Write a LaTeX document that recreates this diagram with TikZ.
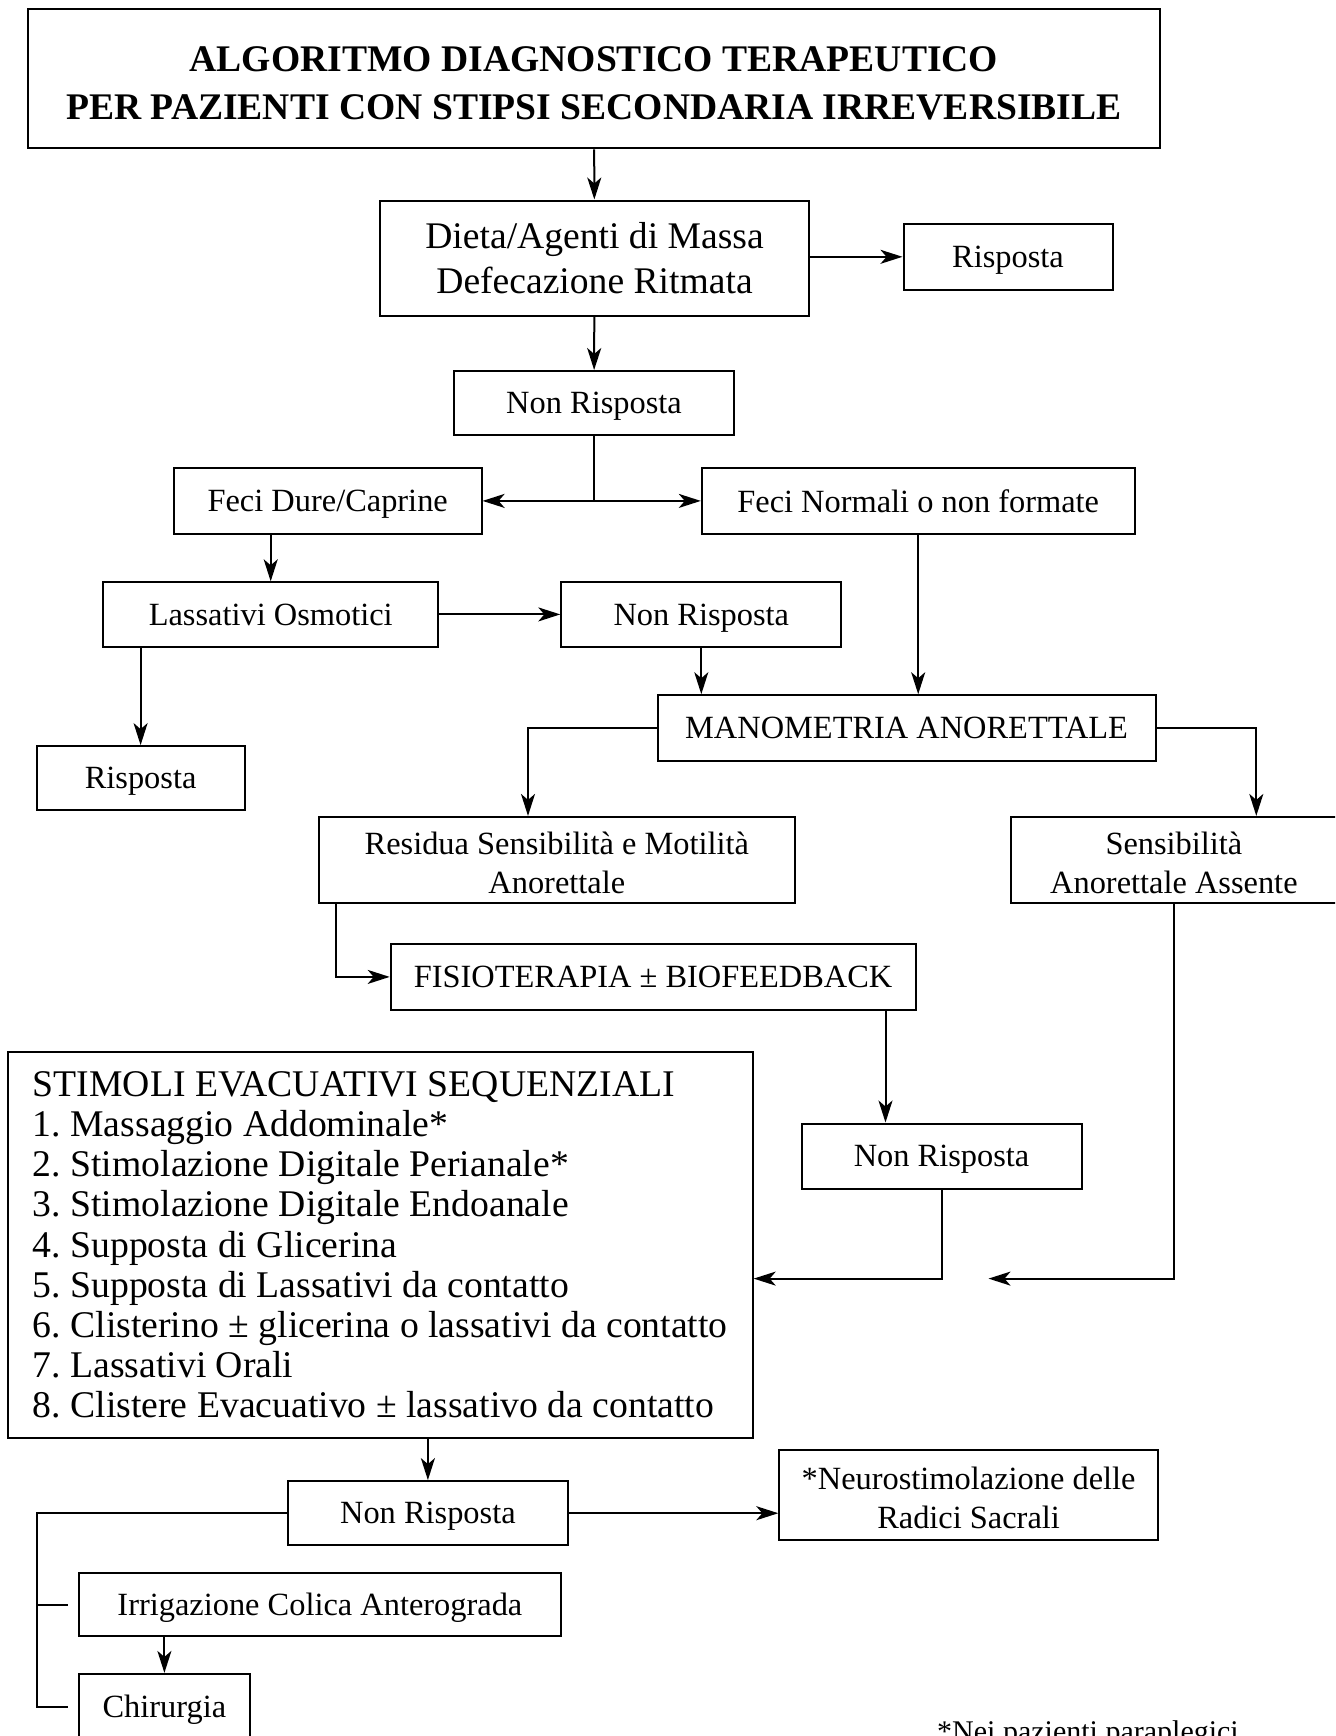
\documentclass[tikz,border=0pt]{standalone}
\usepackage{fontspec}
\setmainfont{Liberation Serif}
\usepackage{tikz}
\usetikzlibrary{arrows.meta,positioning,calc}

\begin{document}
\begin{tikzpicture}[
  x=0.5pt, y=-0.5pt,
  frame/.style={
    draw, line width=1pt, align=center, inner sep=0pt,
    font=\fontsize{16.2}{19.5}\selectfont,
  },
  box/.style={frame, text depth=0pt},
  twobox/.style={frame, text height=33.5pt, text depth=0pt},
  bigbox/.style={
    frame, font=\fontsize{18.8}{22.5}\selectfont,
  },
  titlebox/.style={
    frame, font=\bfseries\fontsize{18.8}{24}\selectfont,
    text height=41.1pt, text depth=0pt,
  },
  listbox/.style={
    draw, line width=1pt, align=left, inner xsep=11.25pt, inner ysep=0pt,
    font=\fontsize{18.85}{20.1}\selectfont\frenchspacing,
  },
  arrow/.style={-{Stealth[length=11pt, width=7pt, inset=3pt]}, line width=1pt},
  link/.style={line width=1pt},
]
\clip (0,0) rectangle (1335,1736);

\node[titlebox, minimum width=566pt, minimum height=69.7pt] (title) at (594,78.6)
  {ALGORITMO DIAGNOSTICO TERAPEUTICO\\PER PAZIENTI CON STIPSI SECONDARIA IRREVERSIBILE};
\node[bigbox, minimum width=214.75pt, minimum height=57.5pt] (dieta) at (594.5,258)
  {Dieta/Agenti di Massa\\Defecazione Ritmata};
\node[box, minimum width=104.5pt, minimum height=33.2pt] (risp1) at (1008,256.8) {Risposta};
\node[box, minimum width=140pt, minimum height=32pt] (nr1) at (594,403) {Non Risposta};
\node[box, minimum width=153.9pt, minimum height=32.7pt] (fecid) at (327.7,500.9) {Feci Dure/Caprine};
\node[box, minimum width=216.4pt, minimum height=32.7pt] (fecin) at (918.2,500.9) {Feci Normali o non formate};
\node[box, minimum width=167.7pt, minimum height=32.1pt] (lass) at (270.7,614.4) {Lassativi Osmotici};
\node[box, minimum width=140pt, minimum height=32.1pt] (nr2) at (701.3,614.4) {Non Risposta};
\node[box, minimum width=104pt, minimum height=32.1pt] (risp2) at (140.6,778.2) {Risposta};
\node[box, minimum width=249.1pt, minimum height=32.7pt] (mano) at (906.6,727.9) {MANOMETRIA ANORETTALE};
\node[twobox, minimum width=238pt, minimum height=43.2pt] (resid) at (556.8,860.1)
  {Residua Sensibilità e Motilità\\Anorettale};
\node[twobox, minimum width=163.2pt, minimum height=43.2pt] (sens) at (1173.9,860.1)
  {Sensibilità\\Anorettale Assente};
\node[box, minimum width=262.4pt, minimum height=32.7pt] (fisio) at (653.1,976.9) {FISIOTERAPIA ± BIOFEEDBACK};
\node[box, minimum width=140pt, minimum height=32.7pt] (nr3) at (941.5,1156.2) {Non Risposta};
\node[listbox, minimum width=372.5pt, minimum height=193.2pt] (stim) at (380.2,1244.8)
  {STIMOLI EVACUATIVI SEQUENZIALI\\
   1. Massaggio Addominale*\\
   2. Stimolazione Digitale Perianale*\\
   3. Stimolazione Digitale Endoanale\\
   4. Supposta di Glicerina\\
   5. Supposta di Lassativi da contatto\\
   6. Clisterino ± glicerina o lassativi da contatto\\
   7. Lassativi Orali\\
   8. Clistere Evacuativo ± lassativo da contatto};
\node[box, minimum width=140pt, minimum height=32.1pt] (nr4) at (427.9,1513.2) {Non Risposta};
\node[twobox, minimum width=189.3pt, minimum height=44.9pt] (neuro) at (968.6,1495)
  {*Neurostimolazione delle\\Radici Sacrali};
\node[box, minimum width=241.3pt, minimum height=31.6pt] (irr) at (319.9,1604.6) {Irrigazione Colica Anterograda};
\node[box, minimum width=85.8pt, minimum height=32.6pt] (chir) at (164.4,1706.5) {Chirurgia};
\node[anchor=base, font=\fontsize{15}{18}\selectfont] (note) at (1088,1741) {*Nei pazienti paraplegici};

\coordinate (split) at (nr1.south |- fecid.east);
\coordinate (sensend) at (988.5,1278.6);
\coordinate (rail) at (36.5,1513.2);

\draw[arrow] (title) -- (dieta);
\draw[arrow] (dieta.east |- risp1.west) -- (risp1.west);
\draw[arrow] (dieta) -- (nr1);
\draw[link] (nr1.south) -- (split);
\draw[arrow] (split) -- (fecid.east);
\draw[arrow] (split) -- (fecin.west);
\draw[arrow] (fecid.south -| lass.north) -- (lass.north);
\draw[arrow] (lass.east) -- (nr2.west);
\draw[arrow] (lass.south -| risp2.north) -- (risp2.north);
\draw[arrow] (nr2.south) -- (nr2.south |- mano.north);
\draw[arrow] (fecin.south) -- (fecin.south |- mano.north);
\draw[arrow] (mano.west) -| ([xshift=-14.4pt]resid.north);
\draw[arrow] (mano.east) -| ([xshift=41.2pt]sens.north);
\draw[arrow] ([xshift=8.85pt]resid.south west) |- (fisio.west);
\draw[arrow] ([xshift=-15.5pt]fisio.south east) -- ([xshift=-15.5pt]fisio.south east |- nr3.north);
\draw[arrow] (nr3.south) |- ([yshift=-16.9pt]stim.east);
\draw[arrow] (sens.south) |- (sensend);
\draw[arrow] (stim.south -| nr4.north) -- (nr4.north);
\draw[arrow] (nr4.east) -- (nr4.east -| neuro.west);

% alternative options on the left rail
\draw[link] (nr4.west) -- (rail) |- ([xshift=-5pt]chir.west);
\draw[link] (rail |- irr.west) -- ([xshift=-5pt]irr.west);
\draw[arrow] (irr.south -| chir.north) -- (chir.north);

\end{tikzpicture}
\end{document}
